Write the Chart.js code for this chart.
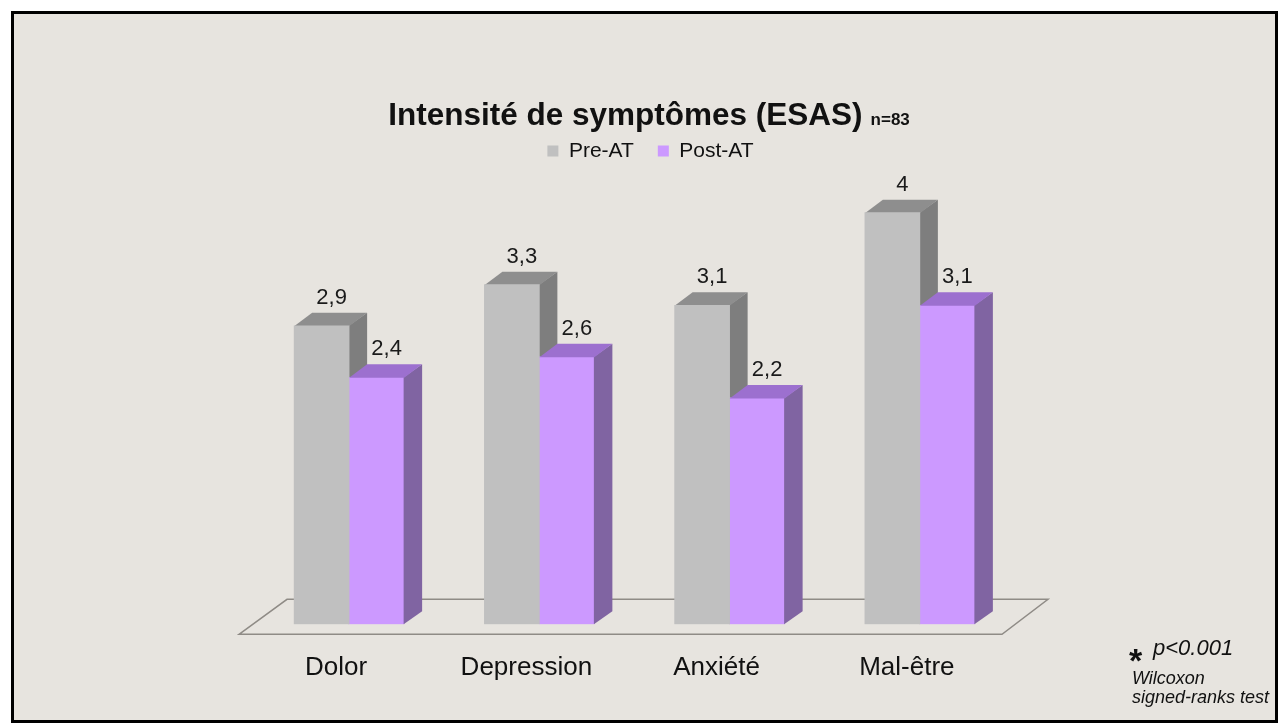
<!DOCTYPE html>
<html>
<head>
<meta charset="utf-8">
<script src="https://cdn.jsdelivr.net/npm/chart.js@4.4.1/dist/chart.umd.min.js"></script>
<style>
    body { margin: 0; background: #fff; }
    #frame {
        position: absolute; left: 11px; top: 11px; width: 1267px; height: 712px;
        box-sizing: border-box; border: 3px solid #000; background: #e7e4df;
    }
    #esasChart { position: absolute; left: 0; top: 0; }
</style>
</head>
<body>
<div id="frame"></div>
<canvas id="esasChart" width="1278" height="723"></canvas>
<script>
"use strict";

const categories = ['Dolor', 'Depression', 'Anxiété', 'Mal-être'];
const seriesNames = ['Pre-AT', 'Post-AT'];
const preValues = [2.9, 3.3, 3.1, 4];
const postValues = [2.4, 2.6, 2.2, 3.1];

const titleText = 'Intensité de symptômes (ESAS)';
const titleNote = 'n=83';
const footLines = ['p<0.001', 'Wilcoxon', 'signed-ranks test'];

const FONT = '"Liberation Sans", Arial, sans-serif';
const DX = 18, DY = 13;
const faceColors = [
    { top: '#8e8e8e', side: '#7e7e7e' },
    { top: '#9c70cf', side: '#8064a2' }
];

function formatValue(v) {
    return String(v).replace('.', ',');
}

function drawFaces(ctx, bar, colors) {
    const { x, y, base, width } = bar.getProps(['x', 'y', 'base', 'width'], true);
    const l = x - width / 2, r = x + width / 2;
    ctx.fillStyle = colors.side;
    ctx.beginPath();
    ctx.moveTo(r - 0.5, y);
    ctx.lineTo(r + DX, y - DY);
    ctx.lineTo(r + DX, base - DY);
    ctx.lineTo(r - 0.5, base);
    ctx.closePath();
    ctx.fill();
    ctx.fillStyle = colors.top;
    ctx.beginPath();
    ctx.moveTo(l, y + 0.5);
    ctx.lineTo(l + DX, y - DY);
    ctx.lineTo(r + DX, y - DY);
    ctx.lineTo(r, y + 0.5);
    ctx.closePath();
    ctx.fill();
}

const bars3d = {
    id: 'bars3d',
    afterLayout(chart) {
        // legend sits a little right of the plot centre in the original
        chart.legend.left += 16;
        chart.legend.right += 16;
    },
    beforeDatasetsDraw(chart) {
        const ctx = chart.ctx;
        const { left, right } = chart.chartArea;
        const base = chart.scales.y.getPixelForValue(0);
        ctx.save();
        ctx.strokeStyle = '#8f8b86';
        ctx.lineWidth = 1.5;
        ctx.beginPath();
        ctx.moveTo(left - 15, base + 10);
        ctx.lineTo(left + 33, base - 25);
        ctx.lineTo(right + 33, base - 25);
        ctx.lineTo(right - 13, base + 10);
        ctx.closePath();
        ctx.stroke();
        chart.getDatasetMeta(0).data.forEach(bar => drawFaces(ctx, bar, faceColors[0]));
        ctx.restore();
    },
    afterDatasetsDraw(chart) {
        const ctx = chart.ctx;
        ctx.save();
        chart.getDatasetMeta(1).data.forEach(bar => drawFaces(ctx, bar, faceColors[1]));
        ctx.font = '22px ' + FONT;
        ctx.fillStyle = '#1a1a1a';
        ctx.textAlign = 'center';
        ctx.textBaseline = 'alphabetic';
        chart.data.datasets.forEach((ds, i) => {
            chart.getDatasetMeta(i).data.forEach((bar, j) => {
                ctx.fillText(formatValue(ds.data[j]), bar.x + DX / 2 + 1, bar.y - DY - 9);
            });
        });
        ctx.restore();
    },
    afterDraw(chart) {
        const ctx = chart.ctx;
        ctx.save();
        ctx.fillStyle = '#111';
        ctx.textBaseline = 'alphabetic';
        ctx.textAlign = 'left';
        // title with the small sample size note
        ctx.font = 'bold 31.5px ' + FONT;
        const mainW = ctx.measureText(titleText).width;
        ctx.font = 'bold 17px ' + FONT;
        const noteW = ctx.measureText(titleNote).width;
        const startX = 649 - (mainW + 8 + noteW) / 2;
        ctx.font = 'bold 31.5px ' + FONT;
        ctx.fillText(titleText, startX, 125);
        ctx.font = 'bold 17px ' + FONT;
        ctx.fillText(titleNote, startX + mainW + 8, 125);
        // footnote
        ctx.font = 'bold 34px ' + FONT;
        ctx.fillText('*', 1129, 672);
        ctx.font = 'italic 22px ' + FONT;
        ctx.fillText(footLines[0], 1153, 655);
        ctx.font = 'italic 18px ' + FONT;
        ctx.fillText(footLines[1], 1132, 684);
        ctx.fillText(footLines[2], 1132, 703);
        ctx.restore();
    }
};

const ctx = document.getElementById('esasChart').getContext('2d');
const esasChart = new Chart(ctx, {
    type: 'bar',
    data: {
        labels: categories,
        datasets: [
            {
                label: seriesNames[0],
                data: preValues,
                backgroundColor: '#c0c0c0',
                barThickness: 55
            },
            {
                label: seriesNames[1],
                data: postValues,
                backgroundColor: '#cc99ff',
                barThickness: 55
            }
        ]
    },
    options: {
        responsive: false,
        animation: false,
        layout: {
            padding: { left: 254, right: 263, top: 116.5, bottom: 12.5 }
        },
        scales: {
            x: {
                grid: { display: false, drawTicks: false },
                border: { display: false },
                ticks: {
                    color: '#111',
                    font: { family: FONT, size: 26 },
                    padding: 27.5,
                    labelOffset: -13
                }
            },
            y: {
                display: false,
                min: 0,
                max: 4.4
            }
        },
        plugins: {
            legend: {
                position: 'top',
                labels: {
                    color: '#111',
                    font: { family: FONT, size: 21 },
                    boxWidth: 11,
                    boxHeight: 11,
                    padding: 24
                }
            },
            tooltip: { enabled: false }
        }
    },
    plugins: [bars3d]
});
</script>
</body>
</html>
